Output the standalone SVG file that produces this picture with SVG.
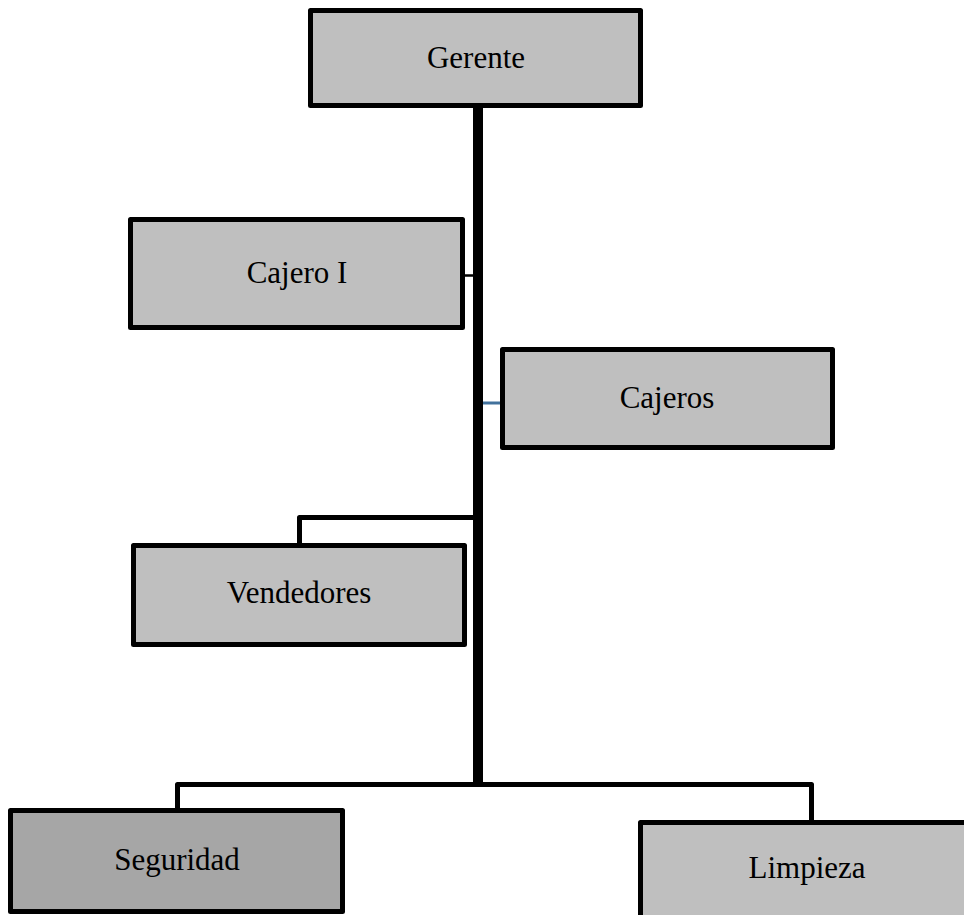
<svg xmlns="http://www.w3.org/2000/svg" width="964" height="915" viewBox="0 0 964 915">
<style>
.box{fill:#bfbfbf;stroke:#000;stroke-width:5;stroke-linejoin:round}
.dark{fill:#a6a6a6}
.lbl{font-family:"Liberation Serif","Times New Roman",serif;font-size:31px;fill:#000;text-anchor:middle}
.ln{fill:none;stroke:#000;stroke-width:5;stroke-linejoin:round}
</style>
<rect width="964" height="915" fill="#fff"/>
<g id="connectors">
<line x1="478" y1="106" x2="478" y2="786" stroke="#000" stroke-width="10"/>
<line x1="463" y1="275.5" x2="474" y2="275.5" stroke="#000" stroke-width="2.5"/>
<line x1="483" y1="403" x2="501" y2="403" stroke="#41719c" stroke-width="3"/>
<polyline class="ln" points="474,517.5 299.5,517.5 299.5,544"/>
<polyline class="ln" points="177.5,809 177.5,784.5 811.5,784.5 811.5,821"/>
</g>
<g id="gerente">
<rect class="box" x="310.5" y="10.5" width="330" height="95"/>
<text class="lbl" x="476" y="68">Gerente</text>
</g>
<g id="cajero1">
<rect class="box" x="130.5" y="219.5" width="332" height="108"/>
<text class="lbl" x="297" y="283">Cajero I</text>
</g>
<g id="cajeros">
<rect class="box" x="502.5" y="349.5" width="330" height="98"/>
<text class="lbl" x="667" y="408">Cajeros</text>
</g>
<g id="vendedores">
<rect class="box" x="133.5" y="545.5" width="331" height="99"/>
<text class="lbl" x="299" y="603">Vendedores</text>
</g>
<g id="seguridad">
<rect class="box dark" x="10.5" y="810.5" width="332" height="101"/>
<text class="lbl" x="177" y="870">Seguridad</text>
</g>
<g id="limpieza">
<rect class="box" x="640.5" y="822.5" width="340" height="110"/>
<text class="lbl" x="807" y="878">Limpieza</text>
</g>
</svg>
